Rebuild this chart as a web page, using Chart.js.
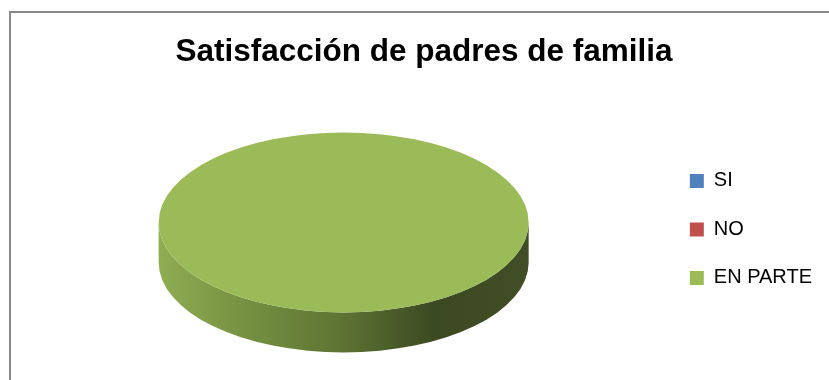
<!DOCTYPE html>
<html>
<head>
<meta charset="utf-8">
<script src="https://cdn.jsdelivr.net/npm/chart.js@4/dist/chart.umd.min.js"></script>
<style>
    html, body { margin: 0; padding: 0; background: #fff; }
    #marco { position: absolute; left: 9px; top: 11px; width: 830px; height: 380px;
             border-left: 2px solid #898989; border-top: 2px solid #898989; }
    #contenedor { position: absolute; left: 0; top: 0; width: 829px; height: 380px; }
</style>
</head>
<body>
<div id="marco"></div>
<div id="contenedor"><canvas id="canvasGrafica"></canvas></div>
<script>
const etiquetas = ["SI", "NO", "EN PARTE"];
const valores = [0, 0, 100];
const colores = ["#4f81bd", "#c0504d", "#9bbb59"];

const INCLINACION = 90 / 185;   // aplastado vertical del disco
const GROSOR = 40;              // alto del canto en pixeles

// Plugin para dar el efecto 3D: aplasta el pastel y dibuja el canto
const pastel3D = {
    id: "pastel3D",
    beforeDatasetsDraw(chart) {
        const arco = chart.getDatasetMeta(0).data.find(a => a.circumference > 0);
        if (!arco) return;
        const { x, y, outerRadius: r } = arco.getProps(["x", "y", "outerRadius"], true);
        const ctx = chart.ctx;
        ctx.save();
        ctx.translate(x, y);
        ctx.scale(1, INCLINACION);
        ctx.translate(-x, -y);

        const d = GROSOR / INCLINACION;
        const grad = ctx.createLinearGradient(x - r, 0, x + r, 0);
        grad.addColorStop(0, "#8fad52");
        grad.addColorStop(0.25, "#748f40");
        grad.addColorStop(0.5, "#5d7333");
        grad.addColorStop(0.74, "#3c4a21");
        grad.addColorStop(1, "#414e25");
        ctx.beginPath();
        ctx.moveTo(x + r, y);
        ctx.lineTo(x + r, y + d);
        ctx.arc(x, y + d, r, 0, Math.PI, false);
        ctx.lineTo(x - r, y);
        ctx.arc(x, y, r, Math.PI, 0, true);
        ctx.closePath();
        ctx.fillStyle = grad;
        ctx.fill();
    },
    afterDatasetsDraw(chart) {
        if (chart.getDatasetMeta(0).data.some(a => a.circumference > 0)) chart.ctx.restore();
    }
};

function createChart() {
    const ctx = document.getElementById("canvasGrafica").getContext("2d");
    new Chart(ctx, {
        type: "pie",
        data: {
            labels: etiquetas,
            datasets: [{
                data: valores,
                backgroundColor: colores,
                borderWidth: 0,
                radius: 185,
                rotation: 90
            }]
        },
        options: {
            responsive: true,
            maintainAspectRatio: false,
            animation: false,
            layout: { padding: { left: 26, right: 7, top: 0, bottom: 12 } },
            plugins: {
                title: {
                    display: true,
                    text: "Satisfacción de padres de familia",
                    color: "#000",
                    font: { family: "Liberation Sans", size: 31.5, weight: "bold" },
                    padding: { top: 33, bottom: 6 }
                },
                legend: {
                    position: "right",
                    fullSize: false,
                    title: { display: true, text: "", font: { size: 10, lineHeight: 1.4 }, padding: 0 },
                    labels: {
                        color: "#000",
                        font: { family: "Liberation Sans", size: 20 },
                        boxWidth: 14,
                        boxHeight: 14,
                        padding: 28.5
                    }
                },
                tooltip: { enabled: false }
            }
        },
        plugins: [pastel3D]
    });
}

createChart();
</script>
</body>
</html>
